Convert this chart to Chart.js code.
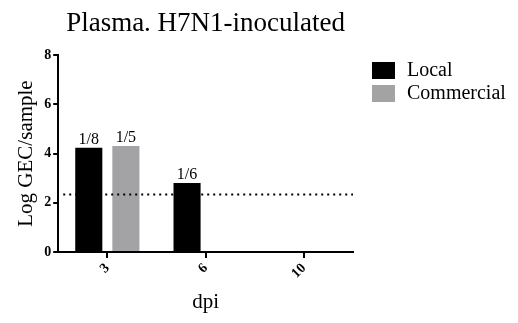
<!DOCTYPE html>
<html>
<head>
<meta charset="utf-8">
<script src="https://cdn.jsdelivr.net/npm/chart.js@4/dist/chart.umd.min.js"></script>
<style>
  html, body { margin: 0; padding: 0; background: #fff; }
  #wrap { width: 518px; height: 323px; }
</style>
</head>
<body>
<div id="wrap"><canvas id="chart" width="518" height="323"></canvas></div>
<script>
// Data
const categories = ["3", "6", "10"];
const localValues = [4.23, 2.8, null];
const commercialValues = [4.31, null, null];
const localFractions = ["1/8", "1/6", ""];
const commercialFractions = ["1/5", "", ""];
const detectionLimit = 2.34;
const yTicks = [0, 2, 4, 6, 8];

const SERIF = "'Liberation Serif', 'Times New Roman', serif";

// Fraction labels above bars
const barLabels = {
  id: "barLabels",
  afterDatasetsDraw(chart) {
    const ctx = chart.ctx;
    const fracs = [localFractions, commercialFractions];
    ctx.save();
    ctx.font = "16px " + SERIF;
    ctx.fillStyle = "#000";
    ctx.textAlign = "center";
    ctx.textBaseline = "bottom";
    chart.data.datasets.forEach((ds, i) => {
      chart.getDatasetMeta(i).data.forEach((bar, j) => {
        if (ds.data[j] == null || !fracs[i][j]) return;
        ctx.fillText(fracs[i][j], bar.x, bar.y);
      });
    });
    ctx.restore();
  }
};

// Dotted limit line, title and legend
const extras = {
  id: "extras",
  afterDraw(chart) {
    const ctx = chart.ctx;
    const area = chart.chartArea;
    const y = chart.scales.y.getPixelForValue(detectionLimit);
    ctx.save();
    ctx.strokeStyle = "#000";
    ctx.lineWidth = 2;
    ctx.setLineDash([2, 4]);
    ctx.beginPath();
    ctx.moveTo(area.left + 5, y);
    ctx.lineTo(area.right, y);
    ctx.stroke();
    ctx.setLineDash([]);

    // title
    ctx.fillStyle = "#000";
    ctx.font = "27px " + SERIF;
    ctx.textAlign = "center";
    ctx.textBaseline = "alphabetic";
    ctx.fillText("Plasma. H7N1-inoculated", (area.left + area.right) / 2, 31);

    // legend
    ctx.textAlign = "left";
    ctx.textBaseline = "middle";
    ctx.font = "20px " + SERIF;
    chart.data.datasets.forEach((ds, i) => {
      const top = 62 + i * 23;
      ctx.fillStyle = ds.backgroundColor;
      ctx.fillRect(372, top, 23, 17);
      ctx.fillStyle = "#000";
      ctx.fillText(ds.label, 407, top + 9);
    });
    ctx.restore();
  }
};

new Chart(document.getElementById("chart"), {
  type: "bar",
  data: {
    labels: categories,
    datasets: [
      { label: "Local", data: localValues, backgroundColor: "#000000" },
      { label: "Commercial", data: commercialValues, backgroundColor: "#a3a3a5" }
    ]
  },
  options: {
    responsive: false,
    animation: false,
    events: [],
    categoryPercentage: 0.755,
    barPercentage: 0.73,
    layout: { padding: { top: 55, right: 165, bottom: 4, left: 10 } },
    plugins: {
      legend: { display: false },
      title: { display: false },
      tooltip: { enabled: false }
    },
    scales: {
      x: {
        grid: { display: true, offset: false, drawOnChartArea: false, drawTicks: true, tickLength: 6, color: "#000", lineWidth: 2 },
        border: { color: "#000", width: 2 },
        ticks: { color: "#000", font: { family: SERIF, size: 14, weight: "bold" }, minRotation: 45, maxRotation: 45, padding: 2 },
        title: { display: true, text: "dpi", color: "#000", font: { family: SERIF, size: 21 }, padding: { top: 6 } }
      },
      y: {
        min: 0,
        max: 8,
        afterBuildTicks(scale) { scale.ticks = yTicks.map(v => ({ value: v })); },
        grid: { drawOnChartArea: false, drawTicks: true, tickLength: 5, color: "#000", lineWidth: 2 },
        border: { color: "#000", width: 2 },
        ticks: { color: "#000", font: { family: SERIF, size: 14, weight: "bold" }, padding: 2 },
        title: { display: true, text: "Log GEC/sample", color: "#000", font: { family: SERIF, size: 21 }, padding: { bottom: 3 } }
      }
    }
  },
  plugins: [barLabels, extras]
});
</script>
</body>
</html>
